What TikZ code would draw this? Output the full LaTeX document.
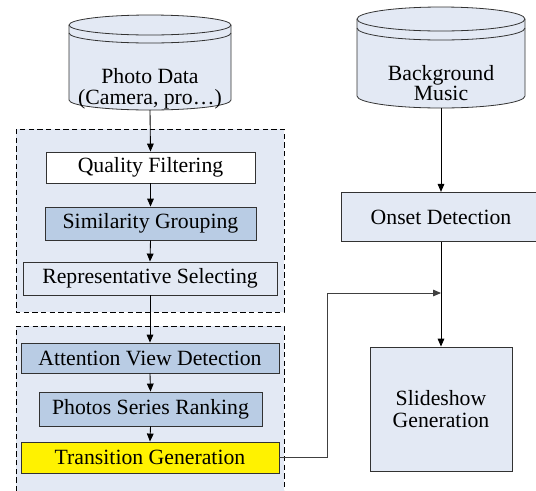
\documentclass[tikz,border=0pt]{standalone}
\usepackage{fontspec}
\setmainfont{Liberation Serif}
\usetikzlibrary{arrows.meta}
\definecolor{lightbg}{RGB}{227,233,244}
\definecolor{midblue}{RGB}{185,204,228}
\definecolor{boxline}{RGB}{50,50,50}
\tikzset{
  box/.style={draw=boxline, line width=0.65pt, inner sep=0pt, align=center,
    font=\fontsize{16.3}{16}\selectfont},
  cyltext/.style={inner sep=0pt, align=center, font=\fontsize{16.3}{15.5}\selectfont},
  cylshape/.style={draw=boxline, line width=0.6pt, fill=lightbg},
  conn/.style={draw=black, line width=0.65pt, -{Triangle[length=6pt,width=5pt]}},
  grayconn/.style={draw=black!75, line width=0.65pt, -{Triangle[length=6pt,width=5pt]}},
  groupfill/.style={fill=lightbg, draw=none},
  groupedge/.style={draw=black, line width=0.65pt, dash pattern=on 4pt off 2.5pt},
}
\begin{document}
\begin{tikzpicture}[x=0.75pt, y=-0.75pt]
\useasboundingbox (0,0) rectangle (536,490);
\clip (0,0) rectangle (536,490);

% groups
\fill[groupfill] (16,129) rectangle (284,312);
\draw[groupedge] (16,129) rectangle (284,312);
\fill[groupfill] (16,326) rectangle (284,500);
\draw[groupedge] (16,500) -- (16,326) -- (284,326) -- (284,500);

% Photo Data cylinder
\draw[cylshape] (69,25) -- (69,100) arc[start angle=180, end angle=0, x radius=81, y radius=10]
  -- (231,25) arc[start angle=0, end angle=-180, x radius=81, y radius=10] -- cycle;
\draw[boxline, line width=0.6pt] (69,25) arc[start angle=180, end angle=0, x radius=81, y radius=10];
\draw[boxline, line width=0.6pt] (69,33) arc[start angle=180, end angle=0, x radius=81, y radius=10];
\node[cyltext] (photo) at (150,89) {Photo Data\\(Camera, pro…)};
\coordinate (photobot) at (150,110);

% Background Music cylinder
\draw[cylshape] (357,19) -- (357,96) arc[start angle=180, end angle=0, x radius=84, y radius=12]
  -- (525,19) arc[start angle=0, end angle=-180, x radius=84, y radius=12] -- cycle;
\draw[boxline, line width=0.6pt] (357,19) arc[start angle=180, end angle=0, x radius=84, y radius=12];
\draw[boxline, line width=0.6pt] (357,28) arc[start angle=180, end angle=0, x radius=84, y radius=12];
\node[cyltext] (music) at (441,83) {Background\\Music};
\coordinate (musicbot) at (441,108);

% boxes
\node[box, fill=white, minimum width=156.75pt, minimum height=23.25pt] (qf) at (150.5,167.5) {Quality Filtering};
\node[box, fill=midblue, minimum width=158.25pt, minimum height=24.75pt] (sg) at (150.5,223.5) {Similarity Grouping};
\node[box, fill=lightbg, minimum width=190.5pt, minimum height=24.75pt] (rs) at (150,278.5) {Representative Selecting};
\node[box, fill=midblue, minimum width=193.5pt, minimum height=22.5pt] (av) at (150,358) {Attention View Detection};
\node[box, fill=midblue, minimum width=167.25pt, minimum height=25.5pt] (pr) at (150.5,409) {Photos Series Ranking};
\node[box, fill=yellow, minimum width=193.5pt, minimum height=23.25pt] (tg) at (150,457.5) {Transition Generation};
\node[box, fill=lightbg, minimum width=150pt, minimum height=37pt] (od) at (441,217) {Onset Detection};
\node[box, fill=lightbg, minimum width=106.5pt, minimum height=93pt, font=\fontsize{16.3}{16.5}\selectfont] (sl) at (441,409) {Slideshow\\Generation};

% connectors
\draw[conn] (photobot) -- (qf.north);
\draw[conn] (qf.south) -- (sg.north);
\draw[conn] (sg.south) -- (rs.north);
\draw[conn] (rs.south) -- (av.north);
\draw[conn] (av.south) -- (pr.north);
\draw[conn] (pr.south) -- (tg.north);
\draw[conn] (musicbot) -- (od.north);
\draw[conn] (od.south) -- (sl.north);
\coordinate (bend) at (327,293);
\coordinate (j) at (441,293);
\draw[grayconn] (tg.east) -| (bend) -- (j);
\end{tikzpicture}
\end{document}
